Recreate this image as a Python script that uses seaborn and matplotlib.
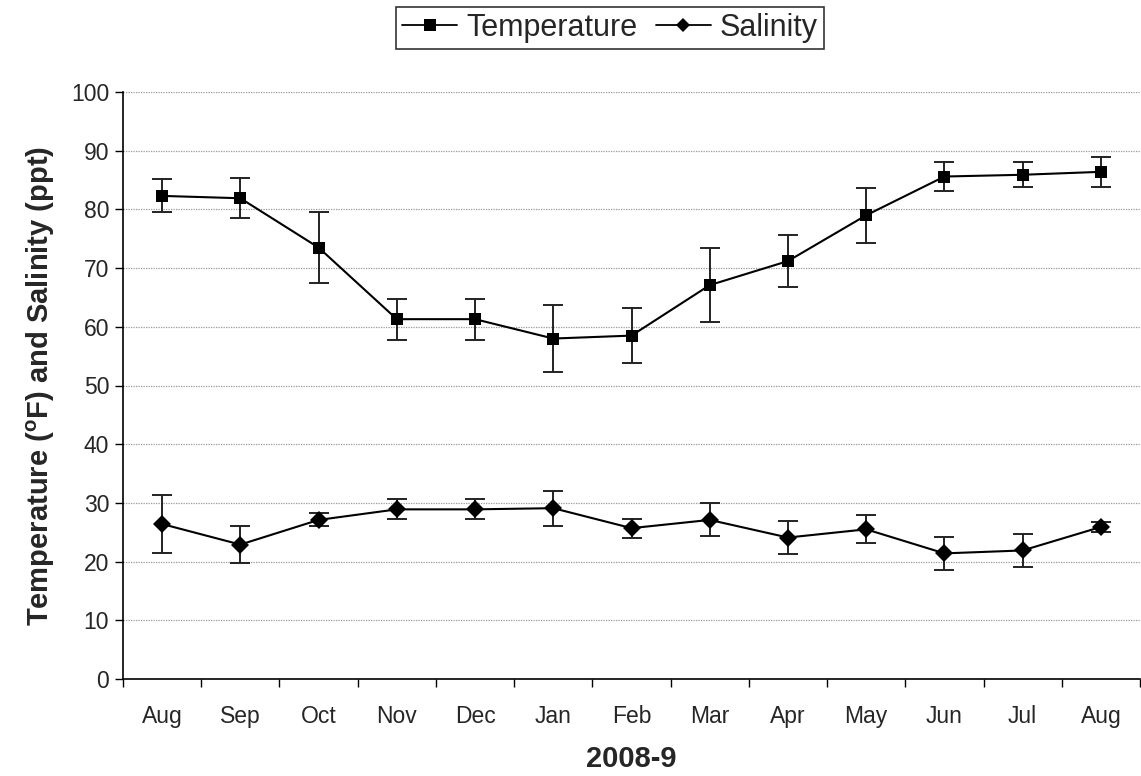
import numpy as np
import pandas as pd
import matplotlib
matplotlib.use("Agg")
import matplotlib.pyplot as plt
import seaborn as sns
from matplotlib.lines import Line2D

# Monthly means and error half-widths, Aug 2008 - Aug 2009
months = ["Aug", "Sep", "Oct", "Nov", "Dec", "Jan", "Feb", "Mar", "Apr", "May", "Jun", "Jul", "Aug"]
temperature = [82.3, 81.9, 73.5, 61.3, 61.3, 58.0, 58.5, 67.1, 71.2, 79.0, 85.6, 85.9, 86.4]
temperature_err = [2.8, 3.4, 6.0, 3.5, 3.5, 5.7, 4.7, 6.3, 4.4, 4.7, 2.5, 2.1, 2.5]
salinity = [26.4, 22.9, 27.1, 28.9, 28.9, 29.1, 25.7, 27.1, 24.1, 25.5, 21.4, 21.9, 25.9]
salinity_err = [4.9, 3.2, 1.1, 1.7, 1.7, 3.0, 1.6, 2.8, 2.8, 2.4, 2.8, 2.8, 0.9]
series_names = ["Temperature", "Salinity"]
x_label = "2008-9"
y_label = r"Temperature ($\mathbf{^{o}}$F) and Salinity (ppt)"
y_ticks = list(range(0, 101, 10))

sns.set_theme(style="white")
plt.rcParams["font.family"] = ["Liberation Sans", "DejaVu Sans"]
plt.rcParams["mathtext.fontset"] = "custom"
plt.rcParams["mathtext.rm"] = "Liberation Sans"
plt.rcParams["mathtext.bf"] = "Liberation Sans:bold"

idx = np.arange(len(months))
df = pd.DataFrame({
    "pos": np.concatenate([idx, idx]),
    "value": temperature + salinity,
    "err": temperature_err + salinity_err,
    "series": [series_names[0]] * len(months) + [series_names[1]] * len(months),
})

fig = plt.figure(figsize=(11.41, 7.76), dpi=100)
ax = fig.add_axes([123 / 1141, 1 - 679 / 776, (1140 - 123) / 1141, (679 - 92) / 776])

markers = {series_names[0]: "s", series_names[1]: "D"}

# error bars first, so markers sit on top
for name in series_names:
    sub = df[df["series"] == name]
    ax.errorbar(sub["pos"], sub["value"], yerr=sub["err"], fmt="none",
                ecolor="#222222", elinewidth=1.4, capsize=7, capthick=1.4, zorder=2)

sns.lineplot(data=df, x="pos", y="value", hue="series", style="series",
             palette={n: "black" for n in series_names}, markers=markers,
             dashes=False, markersize=9, linewidth=1.5, markeredgewidth=0,
             legend=False, ax=ax, zorder=3)

ax.set_xlim(-0.5, len(months) - 0.5)
ax.set_ylim(0, 100)
ax.set_yticks(y_ticks)
ax.set_yticklabels([str(t) for t in y_ticks], fontsize=16.5)
ax.set_xticks(idx)
ax.set_xticklabels(months, fontsize=16.5)
ax.set_xticks(np.arange(-0.5, len(months)), minor=True)
ax.tick_params(axis="x", which="major", length=0, pad=19)
ax.tick_params(axis="x", which="minor", length=6, width=1, color="black", direction="out", bottom=True)
ax.tick_params(axis="y", length=6, width=1, color="black", direction="out", left=True, pad=4)

ax.grid(axis="y", color="#999999", linestyle=(0, (1, 1)), linewidth=0.9)
ax.set_axisbelow(True)
for side in ["top", "right"]:
    ax.spines[side].set_visible(False)
for side in ["left", "bottom"]:
    ax.spines[side].set_color("black")
    ax.spines[side].set_linewidth(1.2)

ax.set_xlabel(x_label, fontsize=21, fontweight="bold", labelpad=12)
ax.set_ylabel(y_label, fontsize=21, fontweight="bold", labelpad=10)

handles = [Line2D([], [], color="black", marker=markers[n], markersize=8 if n == series_names[0] else 7,
                  linewidth=1.3, markeredgewidth=0) for n in series_names]
leg = fig.legend(handles, series_names, loc="center", bbox_to_anchor=(610 / 1141, 1 - 28 / 776),
                 ncol=2, fontsize=22, frameon=True, fancybox=False, edgecolor="black",
                 handlelength=1.8, handletextpad=0.3, columnspacing=0.6, borderpad=0.2,
                 borderaxespad=0)
leg.get_frame().set_linewidth(1.2)

fig.savefig("out.png", dpi=100)
